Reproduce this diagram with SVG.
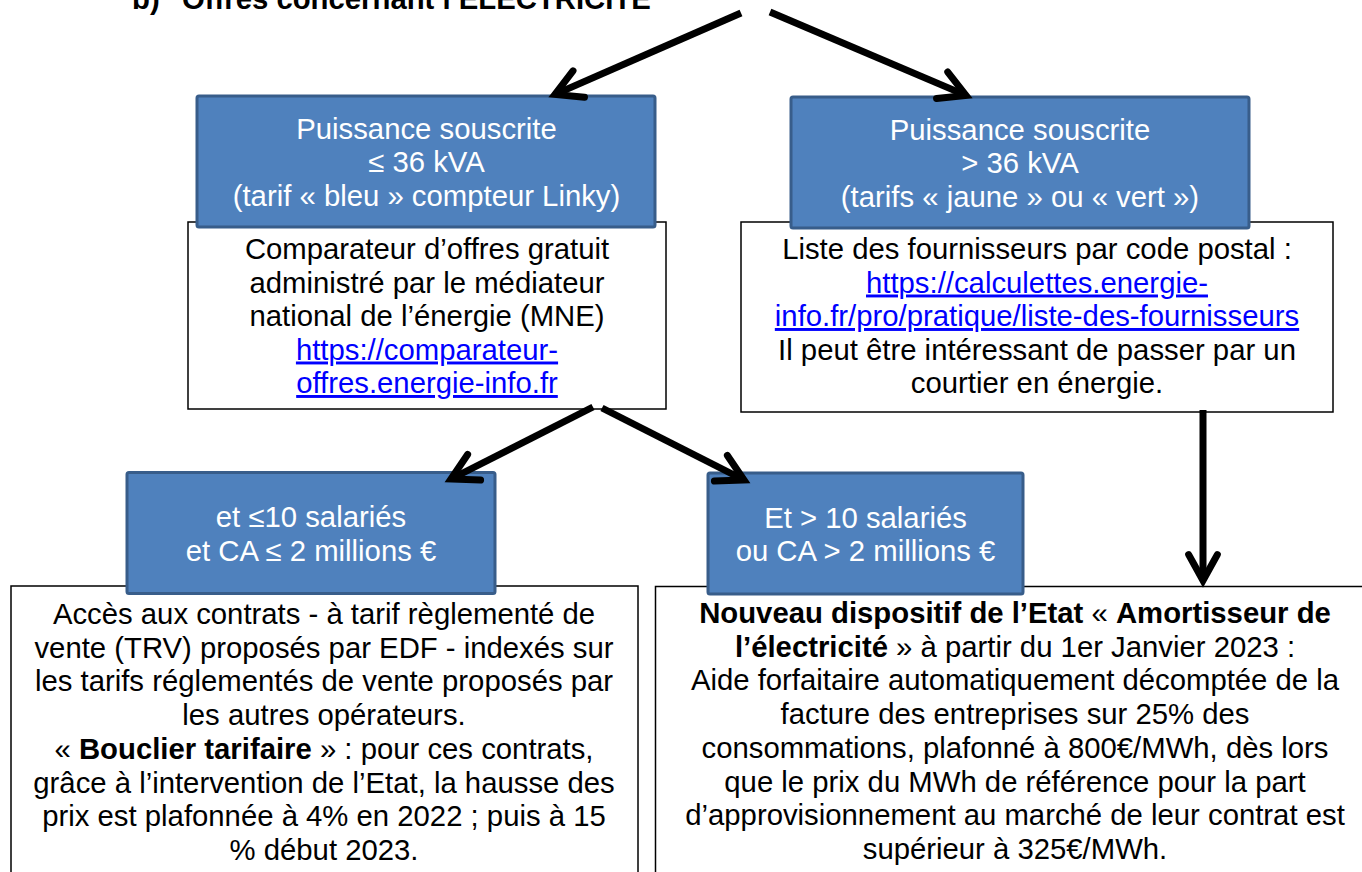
<svg xmlns="http://www.w3.org/2000/svg" width="1362" height="872" viewBox="0 0 1362 872">
<style>
  text { font-family: "Liberation Sans", Arial, sans-serif; font-size: 29.3px; text-anchor: middle; }
  .title { font-weight: bold; text-anchor: start; fill: #000; }
  .blue { fill: #4F81BD; stroke: #385D8A; stroke-width: 3; }
  .white { fill: #FFFFFF; stroke: #000; stroke-width: 1.5; }
  .wt { fill: #FFFFFF; }
  .bt { fill: #000; }
  .link { fill: #0000FF; text-decoration: underline; }
  .b { font-weight: bold; }
  .conn { stroke: #000; stroke-width: 7; fill: none; marker-end: url(#ah); }
</style>
<defs>
  <marker id="ah" markerUnits="strokeWidth" orient="auto" refX="0" refY="0" markerWidth="10" markerHeight="10" viewBox="-6 -5 10 10" overflow="visible">
    <path d="M-3.7,-2.05 L0,0 L-3.7,2.05" fill="none" stroke="#000" stroke-width="1" stroke-linecap="round" stroke-linejoin="miter"/>
  </marker>
</defs>
<rect width="1362" height="872" fill="#FFFFFF"/>

<g id="title">
  <text class="title" y="8.5"><tspan x="132">b)</tspan><tspan x="182">Offres concernant l’ELECTRICITE</tspan></text>
</g>

<g id="node-comparateur">
  <rect class="white" x="188" y="222" width="478" height="187"/>
  <text class="bt" x="427" y="259">Comparateur d’offres gratuit</text>
  <text class="bt" x="427" y="292.5">administré par le médiateur</text>
  <text class="bt" x="427" y="326">national de l’énergie (MNE)</text>
  <text class="link" x="427" y="359.5">https://comparateur-</text>
  <text class="link" x="427" y="393">offres.energie-info.fr</text>
</g>

<g id="node-fournisseurs">
  <rect class="white" x="741" y="222" width="592" height="190"/>
  <text class="bt" x="1037" y="259">Liste des fournisseurs par code postal :</text>
  <text class="link" x="1037" y="292.5">https://calculettes.energie-</text>
  <text class="link" x="1037" y="326">info.fr/pro/pratique/liste-des-fournisseurs</text>
  <text class="bt" x="1037" y="359.5">Il peut être intéressant de passer par un</text>
  <text class="bt" x="1037" y="393">courtier en énergie.</text>
</g>

<g id="node-puissance-inf">
  <rect class="blue" x="197" y="96" width="458" height="131" rx="2"/>
  <text class="wt" x="426.5" y="138.5">Puissance souscrite</text>
  <text class="wt" x="426.5" y="172">≤ 36 kVA</text>
  <text class="wt" x="426.5" y="205.5">(tarif « bleu » compteur Linky)</text>
</g>

<g id="node-puissance-sup">
  <rect class="blue" x="791" y="97" width="458" height="131" rx="2"/>
  <text class="wt" x="1020" y="139.5">Puissance souscrite</text>
  <text class="wt" x="1020" y="173">&gt; 36 kVA</text>
  <text class="wt" x="1020" y="206.5">(tarifs « jaune » ou « vert »)</text>
</g>

<g id="node-trv">
  <rect class="white" x="11" y="586" width="627" height="300"/>
  <text class="bt" x="324" y="624">Accès aux contrats - à tarif règlementé de</text>
  <text class="bt" x="324" y="657.7">vente (TRV) proposés par EDF - indexés sur</text>
  <text class="bt" x="324" y="691.4">les tarifs réglementés de vente proposés par</text>
  <text class="bt" x="324" y="725.1">les autres opérateurs.</text>
  <text class="bt" x="324" y="758.8">« <tspan class="b">Bouclier tarifaire</tspan> » : pour ces contrats,</text>
  <text class="bt" x="324" y="792.5">grâce à l’intervention de l’Etat, la hausse des</text>
  <text class="bt" x="324" y="826.2">prix est plafonnée à 4% en 2022 ; puis à 15</text>
  <text class="bt" x="324" y="859.9">% début 2023.</text>
</g>

<g id="node-amortisseur">
  <rect class="white" x="655.5" y="586.5" width="720" height="300"/>
  <text class="bt" x="1015" y="623"><tspan class="b">Nouveau dispositif de l’Etat</tspan> « <tspan class="b">Amortisseur de</tspan></text>
  <text class="bt" x="1015" y="656.7"><tspan class="b">l’électricité</tspan> » à partir du 1er Janvier 2023 :</text>
  <text class="bt" x="1015" y="690.4">Aide forfaitaire automatiquement décomptée de la</text>
  <text class="bt" x="1015" y="724.1">facture des entreprises sur 25% des</text>
  <text class="bt" x="1015" y="757.8">consommations, plafonné à 800€/MWh, dès lors</text>
  <text class="bt" x="1015" y="791.5">que le prix du MWh de référence pour la part</text>
  <text class="bt" x="1015" y="825.2">d’approvisionnement au marché de leur contrat est</text>
  <text class="bt" x="1015" y="858.9">supérieur à 325€/MWh.</text>
</g>

<g id="node-petites">
  <rect class="blue" x="127" y="472.5" width="368" height="121" rx="2"/>
  <text class="wt" x="311" y="527">et ≤10 salariés</text>
  <text class="wt" x="311" y="560.7">et CA ≤ 2 millions €</text>
</g>

<g id="node-grandes">
  <rect class="blue" x="708" y="473" width="315" height="121" rx="2"/>
  <text class="wt" x="865.5" y="527.5">Et &gt; 10 salariés</text>
  <text class="wt" x="865.5" y="561.2">ou CA &gt; 2 millions €</text>
</g>

<g id="connectors">
  <line class="conn" x1="741" y1="13" x2="555" y2="94.4"/>
  <line class="conn" x1="770" y1="12" x2="966" y2="95.4"/>
  <line class="conn" x1="593" y1="407" x2="451" y2="479"/>
  <line class="conn" x1="602" y1="408" x2="744" y2="480"/>
  <line class="conn" x1="1203" y1="410" x2="1203" y2="580.5"/>
</g>
</svg>
